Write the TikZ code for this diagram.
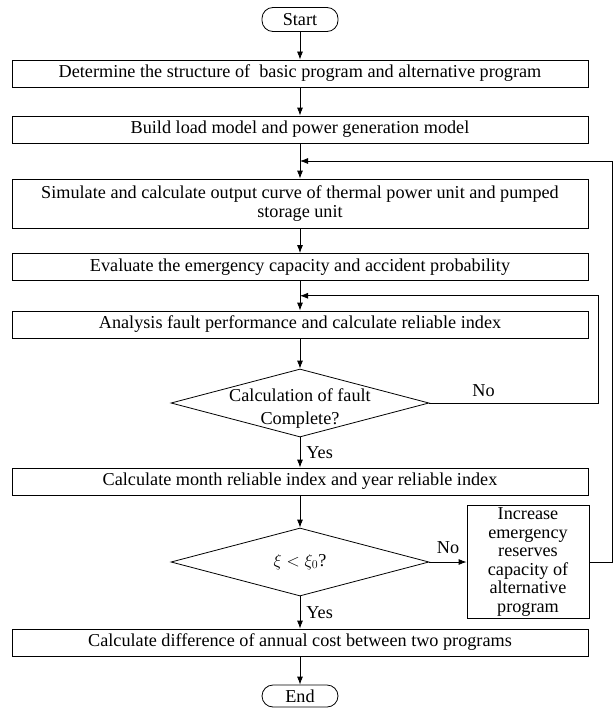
\documentclass[tikz,border=0pt]{standalone}
\usepackage{fontspec}
\setmainfont{Liberation Serif}
\usetikzlibrary{positioning,arrows.meta,calc,shapes.geometric}

\begin{document}
\begin{tikzpicture}[x=1pt,y=1pt,>={Latex[length=8pt,width=6pt]},line width=0.8pt,
 every node/.style={font=\fontsize{18.2}{18.6}\selectfont},
 proc/.style={draw,minimum width=576pt,minimum height=27pt,inner sep=2pt,align=center},
 term/.style={draw,rounded corners=11pt,minimum width=76pt,minimum height=24pt,inner sep=0pt},
 dec/.style={draw,diamond,minimum width=258pt,minimum height=68pt,inner sep=0pt},
 lbl/.style={inner sep=1pt}]
\useasboundingbox (0,0) rectangle (613,-709);
\node[term] (start) at (300,-19.5) {Start};
\node[proc] (det) at (300,-73.5) {Determine the structure of\ \ basic program and alternative program};
\node[proc] (build) at (300,-129.5) {Build load model and power generation model};
\node[proc,minimum height=49pt] (sim) at (300,-203.5) {Simulate and calculate output curve of thermal power unit and pumped\\storage unit};
\node[proc] (eval) at (300,-267) {Evaluate the emergency capacity and accident probability};
\node[proc] (ana) at (300,-324.5) {Analysis fault performance and calculate reliable index};
\node[dec] (chk) at (300,-403) {};
\node[lbl,align=center] (chktxt) at (300,-408.5) {Calculation of fault\\[4.5pt]Complete?};
\node[proc] (calc) at (300,-481.5) {Calculate month reliable index and year reliable index};
\node[dec] (cmp) at (300,-562) {};
\node[lbl] (cmptxt) at (300,-562) {$\xi<\xi_{0}$?};
\node[draw,align=center,minimum width=122pt,minimum height=110pt,inner sep=2pt] (inc) at (528,-562) {Increase\\emergency\\reserves\\capacity of\\alternative\\program};
\node[proc] (diff) at (300,-642.5) {Calculate difference of annual cost between two programs};
\node[term,minimum height=22pt] (stop) at (300,-696) {End};
% main flow
\draw[->] (start) -- (det);
\draw[->] (det) -- (build);
\draw[->] (build) -- (sim);
\draw[->] (sim) -- (eval);
\draw[->] (eval) -- (ana);
\draw[->] (ana) -- (chk);
\draw[->] (chk) -- node[lbl,right=5pt] (yes1) {Yes} (calc);
\draw[->] (calc) -- (cmp);
\draw[->] (cmp) -- node[lbl,right=5pt] (yes2) {Yes} (diff);
\draw[->] (diff) -- (stop);
\draw[->] (cmp) -- node[lbl,above=7pt] (no2) {No} (inc);
% loops back
\coordinate (j1) at ($(build.south)!0.5!(sim.north)$);
\coordinate (j2) at ($(eval.south)!0.5!(ana.north)$);
\draw[->] (chk.east) -- node[lbl,pos=0.32,above=5pt] (no1) {No} ++(169,0) |- (j2);
\draw[->] (inc.east) -- ++(23,0) |- (j1);
\end{tikzpicture}
\end{document}
